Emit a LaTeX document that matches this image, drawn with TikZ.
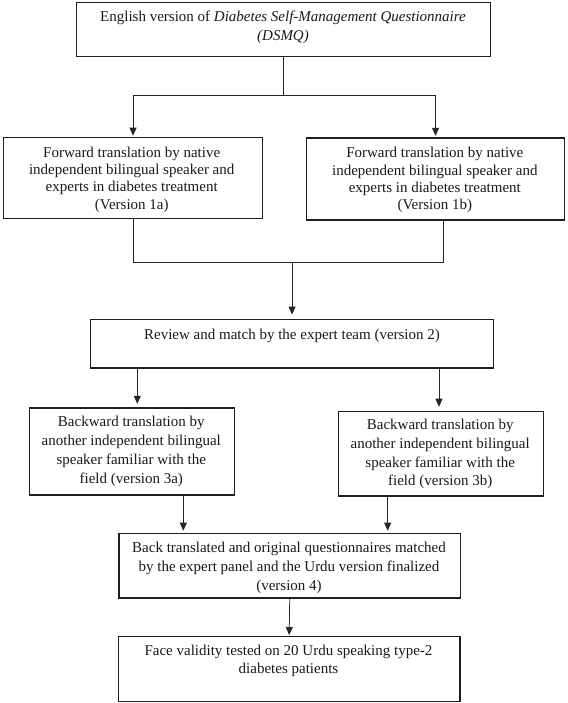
\documentclass[tikz,border=0pt]{standalone}
\usepackage{fontspec}
\setmainfont{Liberation Serif}
\usetikzlibrary{arrows.meta}
\begin{document}
\begin{tikzpicture}[x=1pt,y=-1pt,
  boxst/.style={draw=black!88, line width=1.4pt, rectangle, inner sep=0pt, anchor=north west},
  txt/.style={anchor=north, align=center, inner sep=0pt, text=black!90},
  conn/.style={draw=black!85, line width=0.75pt},
  arr/.style={conn, -{Triangle[length=8pt,width=7pt]}}]
\useasboundingbox (0,0) rectangle (567,703);
% boxes
\node[boxst, minimum width=414pt, minimum height=54.3pt] (top) at (76,1.7) {};
\node[boxst, minimum width=259.3pt, minimum height=81.3pt] (fl) at (2.7,136.7) {};
\node[boxst, minimum width=257.7pt, minimum height=82pt] (fr) at (306,137.3) {};
\node[boxst, minimum width=402.7pt, minimum height=48.3pt] (rev) at (90,319) {};
\node[boxst, minimum width=205.3pt, minimum height=87pt] (bl) at (28.7,407.3) {};
\node[boxst, minimum width=205pt, minimum height=84.6pt] (br) at (337.7,410.7) {};
\node[boxst, minimum width=341.4pt, minimum height=64.6pt] (back) at (118.3,532.7) {};
\node[boxst, minimum width=341.6pt, minimum height=64.7pt] (face) at (117.7,636) {};
% texts
\node[txt, font=\fontsize{15}{19.3}\selectfont] (topt) at (283,10.7)
  {English version of \textit{Diabetes Self-Management Questionnaire}\\\textit{(DSMQ)}};
\node[txt, font=\fontsize{15}{17.3}\selectfont] (flt) at (131.7,146.7)
  {Forward translation by native\\independent bilingual speaker and\\experts in diabetes treatment\\(Version 1a)};
\node[txt, font=\fontsize{15}{17.3}\selectfont] (frt) at (434.8,147.3)
  {Forward translation by native\\independent bilingual speaker and\\experts in diabetes treatment\\(Version 1b)};
\node[txt, font=\fontsize{15}{18.7}\selectfont] (revt) at (292,328.7)
  {Review and match by the expert team (version 2)};
\node[txt, font=\fontsize{15}{18.7}\selectfont] (blt) at (131.3,416.3)
  {Backward translation by\\another independent bilingual\\speaker familiar with the\\field (version 3a)};
\node[txt, font=\fontsize{15}{18.7}\selectfont] (brt) at (440.2,419)
  {Backward translation by\\another independent bilingual\\speaker familiar with the\\field (version 3b)};
\node[txt, font=\fontsize{15}{18.7}\selectfont] (backt) at (289,542.3)
  {Back translated and original questionnaires matched\\by the expert panel and the Urdu version finalized\\(version 4)};
\node[txt, font=\fontsize{15}{18.3}\selectfont] (facet) at (288.5,645)
  {Face validity tested on 20 Urdu speaking type-2\\diabetes patients};
% connectors
\coordinate (j1) at (top.south |- 0,95.7);
\draw[conn] (top.south) -- (j1);
\draw[arr, shorten >=1pt] (j1) -| (fl.north);
\draw[arr, shorten >=1.5pt] (j1) -| (fr.north);
\coordinate (j2) at (rev.north |- 0,262.3);
\draw[conn] (fl.south) |- (j2);
\draw[conn] (443,0 |- fr.south) |- (j2);
\draw[arr, shorten >=4.5pt] (j2) -- (rev.north);
\draw[arr, shorten >=3.5pt] (137.3,0 |- rev.south) -- (137.3,0 |- bl.north);
\draw[arr, shorten >=4pt] (439,0 |- rev.south) -- (439,0 |- br.north);
\draw[arr, shorten >=2pt] (183.3,0 |- bl.south) -- (183.3,0 |- back.north);
\draw[arr, shorten >=2pt] (387.7,0 |- br.south) -- (387.7,0 |- back.north);
\draw[arr, shorten >=1pt] (back.south) -- (face.north);
\end{tikzpicture}
\end{document}
